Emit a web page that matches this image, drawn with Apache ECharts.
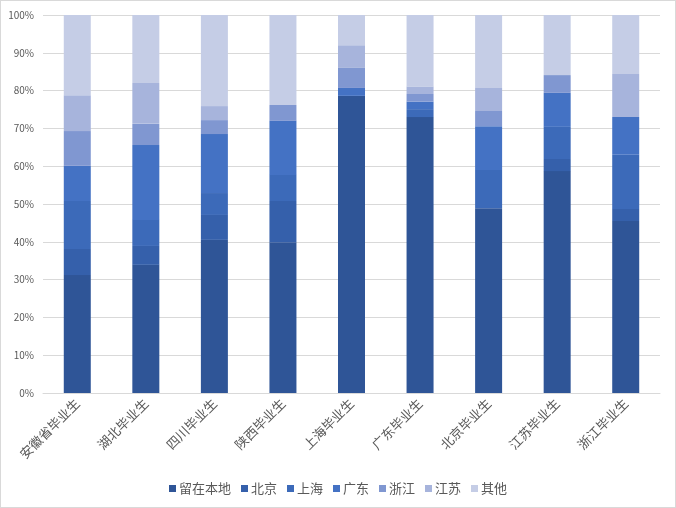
<!DOCTYPE html>
<html>
<head>
<meta charset="utf-8">
<script src="https://cdn.jsdelivr.net/npm/echarts@6/dist/echarts.min.js"></script>
<style>
html,body{margin:0;padding:0;background:#fff;}
#wrap{position:absolute;left:0;top:0;width:674px;height:506px;border:1px solid #d9d9d9;}
#c{width:676px;height:508px;position:absolute;left:0;top:0;}
</style>
</head>
<body>
<div id="wrap"></div>
<div id="c"></div>
<script>
const categories = ['安徽省毕业生','湖北毕业生','四川毕业生','陕西毕业生','上海毕业生','广东毕业生','北京毕业生','江苏毕业生','浙江毕业生'];
const seriesNames = ['留在本地','北京','上海','广东','浙江','江苏','其他'];
const stayLocal = [31.2, 33.9, 40.5, 39.9, 78.6, 73.0, 48.9, 58.7, 45.5];
const beijing   = [6.9, 5.0, 6.6, 10.9, 0, 0, 0, 3.2, 3.2];
const shanghai  = [12.7, 6.9, 5.8, 6.9, 0, 2.1, 10.1, 8.5, 14.3];
const guangdong = [9.3, 19.8, 15.6, 14.3, 2.1, 2.0, 11.6, 9.0, 10.0];
const zhejiang  = [9.2, 5.6, 3.7, 4.2, 5.3, 2.0, 4.0, 4.7, 0];
const jiangsu   = [9.5, 10.8, 3.7, 0, 6.0, 2.0, 6.1, 0, 11.4];
const others    = [21.2, 18.0, 24.1, 23.8, 8.0, 19.0, 19.3, 15.9, 15.6];
const yTicks = [0,10,20,30,40,50,60,70,80,90,100];

const values = [stayLocal, beijing, shanghai, guangdong, zhejiang, jiangsu, others];
const colors = ['#2F5597','#3560AB','#3C6AB9','#4472C4','#8097D1','#A7B4DC','#C5CDE6'];
const font = '"Noto Sans CJK SC", "Noto Sans", sans-serif';

const chart = echarts.init(document.getElementById('c'));
chart.setOption({
  animation: false,
  textStyle: {fontFamily: font},
  grid: {left: 43, right: 16, top: 15, bottom: 115, containLabel: false},
  legend: {
    bottom: 8, left: 'center',
    icon: 'rect', itemWidth: 7, itemHeight: 7, itemGap: 10,
    textStyle: {fontSize: 13, color: '#595959', fontFamily: font, padding: [0,0,0,-2]},
    data: seriesNames
  },
  xAxis: {
    type: 'category', data: categories,
    axisLine: {lineStyle: {color: '#d9d9d9'}},
    axisTick: {show: false},
    axisLabel: {rotate: 45, fontSize: 13, color: '#595959', margin: 8, interval: 0, fontFamily: font}
  },
  yAxis: {
    type: 'value', min: yTicks[0], max: yTicks[yTicks.length-1], interval: 10,
    axisLine: {show: false}, axisTick: {show: false},
    splitLine: {lineStyle: {color: '#d9d9d9'}},
    axisLabel: {formatter: '{value}%', fontSize: 10, color: '#595959', margin: 9, fontFamily: font}
  },
  series: seriesNames.map((n, i) => ({
    name: n, type: 'bar', stack: 'total', data: values[i],
    barWidth: 27,
    itemStyle: {color: colors[i]}
  }))
});
</script>
</body>
</html>
